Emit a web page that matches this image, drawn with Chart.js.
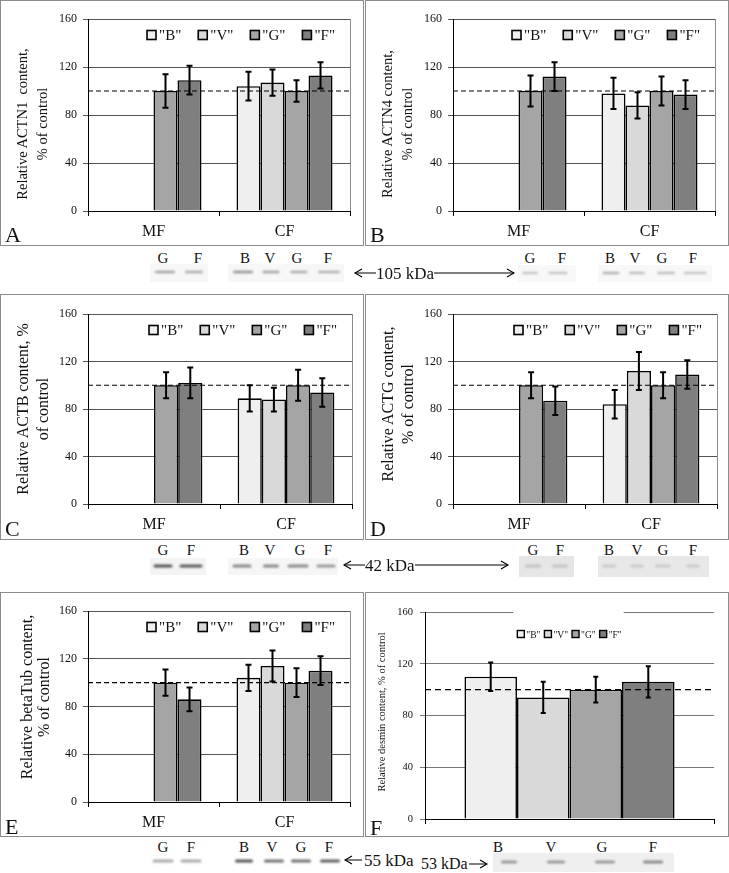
<!DOCTYPE html>
<html>
<head>
<meta charset="utf-8">
<script src="https://cdn.jsdelivr.net/npm/chart.js@4.4.0/dist/chart.umd.min.js"></script>
<style>
  body { margin: 0; background: #fff; }
  #fig { position: relative; width: 729px; height: 873px; overflow: hidden; font-family: 'Liberation Serif', 'Times New Roman', serif; color: #111; }
  .panel { position: absolute; box-sizing: border-box; border: 1px solid #8c8c8c; }
  .panel canvas { position: absolute; left: -1px; top: -1px; }
  .ytitle { position: absolute; transform: translate(-50%, -50%) rotate(-90deg); white-space: nowrap; text-align: center; }
  .letter { position: absolute; font-size: 22px; line-height: 1; }
  .lane { position: absolute; font-size: 15px; line-height: 1; transform: translate(-50%, -50%); }
  .kda { position: absolute; font-size: 17px; line-height: 1; transform: translateY(-50%); background: #fff; white-space: nowrap; }
  svg { position: absolute; left: 0; top: 0; }
</style>
</head>
<body>
<div id="fig">
  <svg id="blots" width="729" height="873"></svg>

  <div class="panel" style="left:0;top:0;width:364px;height:246px"><canvas id="cA" width="364" height="246"></canvas></div>
  <div class="panel" style="left:365px;top:0;width:364px;height:246px"><canvas id="cB" width="364" height="246"></canvas></div>
  <div class="panel" style="left:0;top:294px;width:364px;height:246px"><canvas id="cC" width="364" height="246"></canvas></div>
  <div class="panel" style="left:365px;top:294px;width:364px;height:246px"><canvas id="cD" width="364" height="246"></canvas></div>
  <div class="panel" style="left:0;top:592px;width:364px;height:245px"><canvas id="cE" width="364" height="245"></canvas></div>
  <div class="panel" style="left:365px;top:592px;width:364px;height:245px"><canvas id="cF" width="364" height="245"></canvas></div>

  <div class="ytitle" style="left:32px;top:124px;font-size:14.5px;line-height:20px">Relative ACTN1&nbsp; content,<br>% of control</div>
  <div class="ytitle" style="left:397px;top:124px;font-size:14.5px;line-height:20px">Relative ACTN4 content,<br>% of control</div>
  <div class="ytitle" style="left:33px;top:409px;font-size:16px;line-height:20px">Relative ACTB content, %<br>of control</div>
  <div class="ytitle" style="left:398px;top:404px;font-size:16px;line-height:20px">Relative ACTG content,<br>% of control</div>
  <div class="ytitle" style="left:35px;top:697px;font-size:16px;line-height:17px">Relative betaTub content,<br>% of control</div>
  <div class="ytitle" style="left:382px;top:712px;font-size:10.5px;line-height:12px">Relative desmin content, % of control</div>

  <div class="letter" style="left:5px;top:224px">A</div>
  <div class="letter" style="left:370px;top:224px">B</div>
  <div class="letter" style="left:5px;top:518px">C</div>
  <div class="letter" style="left:370px;top:518px">D</div>
  <div class="letter" style="left:5px;top:816px">E</div>
  <div class="letter" style="left:370px;top:817px">F</div>
</div>

<script>
const SERIF = "'Liberation Serif', 'Times New Roman', serif";

// shared categories, series and axis
const GROUPS = ['MF', 'CF'];
const SERIES = ['"B"', '"V"', '"G"', '"F"'];
const SERIES_COLORS = ['#efefef', '#d9d9d9', '#a5a5a5', '#7f7f7f'];
const Y_TICKS = [0, 40, 80, 120, 160];
const CONTROL_LEVEL = 100;

// rows = B, V, G, F ; columns = MF, CF
const ACTN1_MEAN = [[null, 104], [null, 107], [100, 100], [109, 113]];
const ACTN1_ERR  = [[null, 12],  [null, 11],  [14, 9],    [12, 11]];
const ACTN4_MEAN = [[null, 98],  [null, 88],  [100, 100], [112, 97]];
const ACTN4_ERR  = [[null, 13],  [null, 11],  [13, 12],   [12, 12]];
const ACTB_MEAN  = [[null, 89],  [null, 88],  [100, 100], [102, 94]];
const ACTB_ERR   = [[null, 11],  [null, 10],  [11, 13],   [13, 12]];
const ACTG_MEAN  = [[null, 84],  [null, 112], [100, 100], [87, 109]];
const ACTG_ERR   = [[null, 12],  [null, 16],  [11, 11],   [12, 12]];
const TUB_MEAN   = [[null, 104], [null, 114], [100, 100], [86, 110]];
const TUB_ERR    = [[null, 11],  [null, 13],  [11, 12],   [10, 12]];

// desmin: one group only
const DESMIN_GROUPS = [''];
const DESMIN_MEAN = [[110], [94], [100], [106]];
const DESMIN_ERR  = [[11], [12], [10], [12]];

// blot lane letters
const LANES_MF = ['G', 'F'];
const LANES_CF = ['B', 'V', 'G', 'F'];

const refLine = {
  id: 'refLine',
  afterDatasetsDraw(chart, args, o) {
    const { ctx, chartArea } = chart;
    const y = chart.scales.y.getPixelForValue(CONTROL_LEVEL);
    ctx.save();
    ctx.strokeStyle = '#000';
    ctx.lineWidth = o.width;
    ctx.setLineDash(o.dash);
    ctx.beginPath();
    ctx.moveTo(chartArea.left, y);
    ctx.lineTo(chartArea.right, y);
    ctx.stroke();
    ctx.restore();
  }
};

const errorBars = {
  id: 'errorBars',
  afterDatasetsDraw(chart, args, o) {
    const { ctx } = chart;
    const ys = chart.scales.y;
    ctx.save();
    ctx.strokeStyle = '#000';
    ctx.lineWidth = o.width;
    chart.data.datasets.forEach((ds, di) => {
      chart.getDatasetMeta(di).data.forEach((bar, i) => {
        const v = ds.data[i], e = ds.errors[i];
        if (v == null || e == null) return;
        const top = ys.getPixelForValue(v + e);
        const bot = ys.getPixelForValue(v - e);
        ctx.beginPath();
        ctx.moveTo(bar.x, top); ctx.lineTo(bar.x, bot);
        ctx.moveTo(bar.x - o.cap, top); ctx.lineTo(bar.x + o.cap, top);
        ctx.moveTo(bar.x - o.cap, bot); ctx.lineTo(bar.x + o.cap, bot);
        ctx.stroke();
      });
    });
    ctx.restore();
  }
};

const insideLegend = {
  id: 'insideLegend',
  afterDatasetsDraw(chart, args, o) {
    const { ctx, chartArea } = chart;
    const sets = chart.data.datasets;
    ctx.save();
    ctx.font = o.size + 'px ' + SERIF;
    ctx.textBaseline = 'middle';
    const widths = sets.map(d => o.box + o.gap + ctx.measureText(d.label).width);
    const total = widths.reduce((a, b) => a + b, 0) + o.spacing * (sets.length - 1);
    let x = o.center ? (chartArea.left + chartArea.right - total) / 2 : chartArea.right - o.right - total;
    const y = chartArea.top + o.top;
    if (o.clear) {
      ctx.fillStyle = '#fff';
      ctx.fillRect(x - 4, chartArea.top - 2, total + 6, 5);
    }
    sets.forEach((d, i) => {
      ctx.fillStyle = d.backgroundColor;
      ctx.fillRect(x, y - o.box / 2, o.box, o.box);
      ctx.strokeStyle = '#000';
      ctx.lineWidth = o.line;
      ctx.strokeRect(x, y - o.box / 2, o.box, o.box);
      ctx.fillStyle = '#111';
      ctx.fillText(d.label, x + o.box + o.gap, y + 1);
      x += widths[i] + o.spacing;
    });
    ctx.restore();
  }
};

const plotFrame = {
  id: 'plotFrame',
  beforeDatasetsDraw(chart, args, o) {
    if (!o.show) return;
    const { ctx, chartArea } = chart;
    ctx.save();
    ctx.strokeStyle = o.color;
    ctx.lineWidth = 1;
    ctx.beginPath();
    ctx.moveTo(Math.round(chartArea.right) + 0.5, chartArea.top);
    ctx.lineTo(Math.round(chartArea.right) + 0.5, chartArea.bottom);
    ctx.stroke();
    ctx.restore();
  }
};

function makePanel(id, groups, means, errs, plot, look) {
  const canvas = document.getElementById(id);
  const W = canvas.width, H = canvas.height;
  const datasets = SERIES.map((name, i) => ({
    label: name,
    data: means[i],
    errors: errs[i],
    backgroundColor: SERIES_COLORS[i],
    borderColor: '#000',
    borderWidth: look.barLine,
    categoryPercentage: look.share,
    barPercentage: 1
  }));
  return new Chart(canvas, {
    type: 'bar',
    data: { labels: groups, datasets: datasets },
    options: {
      responsive: false,
      animation: false,
      layout: { padding: { top: plot.top, right: W - plot.right, left: 0, bottom: 0 } },
      scales: {
        x: {
          grid: { display: true, drawOnChartArea: false, offset: true, color: '#000', tickLength: 5 },
          border: { color: '#000' },
          ticks: { font: { family: SERIF, size: look.catSize }, color: '#111', padding: look.catPad },
          afterFit: s => { s.height = H - plot.bottom; }
        },
        y: {
          min: 0, max: 160,
          afterBuildTicks: s => { s.ticks = Y_TICKS.map(v => ({ value: v })); },
          ticks: { font: { family: SERIF, size: look.tickSize }, color: '#111', padding: look.tickPad },
          grid: { color: look.gridColor, tickLength: 5 },
          border: { color: '#000' },
          afterFit: s => { s.width = plot.left; }
        }
      },
      plugins: {
        legend: { display: false },
        tooltip: { enabled: false },
        refLine: { width: look.dashWidth, dash: look.dash },
        errorBars: { width: 2, cap: look.cap },
        insideLegend: look.legend,
        plotFrame: { show: look.frame, color: '#8c8c8c' }
      }
    },
    plugins: [plotFrame, refLine, errorBars, insideLegend]
  });
}

const lookTop = {
  share: 0.733, barLine: 1.6, catSize: 16, catPad: 6, tickSize: 12, tickPad: 6,
  gridColor: '#555', dashWidth: 1.2, dash: [5, 3], cap: 3, frame: true,
  legend: { size: 15, box: 9, gap: 3, spacing: 17, top: 16, right: 15, line: 1.6 }
};
const lookDesmin = {
  share: 0.727, barLine: 1.6, catSize: 10, catPad: 0, tickSize: 10.5, tickPad: 7,
  gridColor: '#777', dashWidth: 1.2, dash: [6, 4], cap: 2.5, frame: false,
  legend: { size: 9.5, box: 7, gap: 2, spacing: 4, top: 22, center: true, clear: true, line: 1.4 }
};

makePanel('cA', GROUPS, ACTN1_MEAN, ACTN1_ERR, { left: 88, top: 19, right: 350, bottom: 211 }, lookTop);
makePanel('cB', GROUPS, ACTN4_MEAN, ACTN4_ERR, { left: 88, top: 19, right: 350, bottom: 211 }, lookTop);
makePanel('cC', GROUPS, ACTB_MEAN, ACTB_ERR, { left: 88, top: 20, right: 352, bottom: 210 }, lookTop);
makePanel('cD', GROUPS, ACTG_MEAN, ACTG_ERR, { left: 88, top: 20, right: 352, bottom: 210 }, lookTop);
makePanel('cE', GROUPS, TUB_MEAN, TUB_ERR, { left: 88, top: 19, right: 350, bottom: 210 }, lookTop);
makePanel('cF', DESMIN_GROUPS, DESMIN_MEAN, DESMIN_ERR, { left: 60, top: 20, right: 349, bottom: 227 }, lookDesmin);

// ---- western blot strips (decoration under each row) ----
const fig = document.getElementById('fig');
const svg = document.getElementById('blots');
const NS = 'http://www.w3.org/2000/svg';
svg.innerHTML = '<defs><filter id="soft" x="-20%" y="-100%" width="140%" height="300%"><feGaussianBlur stdDeviation="0.8"/></filter></defs>';

function svgEl(tag, attrs) {
  const el = document.createElementNS(NS, tag);
  for (const k in attrs) el.setAttribute(k, attrs[k]);
  svg.appendChild(el);
  return el;
}
function shade(x1, y1, x2, y2, color) {
  svgEl('rect', { x: x1, y: y1, width: x2 - x1, height: y2 - y1, fill: color });
}
function band(cx, cy, w, color, h) {
  svgEl('rect', { x: cx - w / 2, y: cy - (h || 3) / 2, width: w, height: h || 3, rx: 1.5, fill: color, filter: 'url(#soft)' });
}
function lanes(letters, xs, y) {
  letters.forEach((t, i) => {
    const d = document.createElement('div');
    d.className = 'lane';
    d.style.left = xs[i] + 'px';
    d.style.top = y + 'px';
    d.textContent = t;
    fig.appendChild(d);
  });
}
function arrow(x1, x2, y, heads) {
  svgEl('line', { x1: x1, y1: y, x2: x2, y2: y, stroke: '#000', 'stroke-width': 1 });
  if (heads.includes('L')) svgEl('path', { d: `M${x1 + 7},${y - 4} L${x1},${y} L${x1 + 7},${y + 4}`, fill: 'none', stroke: '#000', 'stroke-width': 1.1 });
  if (heads.includes('R')) svgEl('path', { d: `M${x2 - 7},${y - 4} L${x2},${y} L${x2 - 7},${y + 4}`, fill: 'none', stroke: '#000', 'stroke-width': 1.1 });
}
function kda(text, x, y, size) {
  const d = document.createElement('div');
  d.className = 'kda';
  d.style.left = x + 'px';
  d.style.top = y + 'px';
  if (size) d.style.fontSize = size + 'px';
  d.textContent = text;
  fig.appendChild(d);
}

// row 1: ACTN1 / ACTN4, 105 kDa
shade(150, 264, 208, 282, '#f7f7f7'); shade(228, 264, 344, 282, '#f7f7f7');
shade(518, 265, 576, 282, '#f8f8f8'); shade(598, 265, 712, 282, '#f8f8f8');
lanes(LANES_MF, [163, 198], 258); lanes(LANES_CF, [245, 270, 297, 328], 258);
lanes(LANES_MF, [530, 562], 258); lanes(LANES_CF, [610, 635, 662, 693], 258);
[[165, 20, '#a0a0a0'], [194, 18, '#aaaaaa'], [243, 20, '#909090'], [271, 17, '#a0a0a0'], [299, 17, '#aaaaaa'], [329, 22, '#b0b0b0']]
  .forEach(b => band(b[0], 272, b[1], b[2], 2.5));
[[530, 16, '#c4c4c4'], [558, 19, '#c4c4c4'], [611, 17, '#b0b0b0'], [637, 16, '#bdbdbd'], [666, 18, '#bdbdbd'], [695, 23, '#c4c4c4']]
  .forEach(b => band(b[0], 273, b[1], b[2], 2.5));
arrow(355, 514, 273, 'LR');
kda('105 kDa', 376, 273);

// row 2: ACTB / ACTG, 42 kDa
shade(150, 558, 206, 575, '#f4f4f4'); shade(228, 558, 338, 575, '#f6f6f6');
shade(519, 556, 574, 577, '#e6e6e6'); shade(598, 556, 709, 577, '#e8e8e8');
lanes(LANES_MF, [163, 191], 550); lanes(LANES_CF, [244, 270, 300, 328], 550);
lanes(LANES_MF, [533, 560], 550); lanes(LANES_CF, [609, 637, 663, 693], 550);
[[163, 19, '#555'], [191, 23, '#5a5a5a'], [242, 19, '#888'], [271, 16, '#888'], [298, 21, '#8a8a8a'], [326, 19, '#9a9a9a']]
  .forEach(b => band(b[0], 566, b[1], b[2]));
[[533, 16, '#c2c2c2'], [560, 16, '#c2c2c2'], [609, 14, '#cacaca'], [637, 14, '#cacaca'], [663, 16, '#cacaca'], [693, 14, '#cacaca']]
  .forEach(b => band(b[0], 566, b[1], b[2]));
arrow(344, 508, 565, 'LR');
kda('42 kDa', 365, 565);

// row 3: betaTub 55 kDa / desmin 53 kDa
shade(493, 853, 674, 872, '#efefef');
lanes(LANES_MF, [163, 191], 847); lanes(LANES_CF, [244, 272, 301, 329], 847);
lanes(LANES_CF, [498, 551, 602, 653], 847);
[[163, 21, '#aaa'], [191, 21, '#aaa'], [244, 18, '#555'], [274, 20, '#707070'], [301, 20, '#707070'], [330, 20, '#606060']]
  .forEach(b => band(b[0], 861, b[1], b[2]));
[[509, 16, '#9a9a9a'], [556, 18, '#9a9a9a'], [605, 20, '#999'], [653, 20, '#8a8a8a']]
  .forEach(b => band(b[0], 862, b[1], b[2]));
arrow(345, 362, 860, 'L');
kda('55 kDa', 364, 860);
kda('53 kDa', 421, 864, 16);
arrow(469, 487, 864, 'R');
</script>
</body>
</html>
